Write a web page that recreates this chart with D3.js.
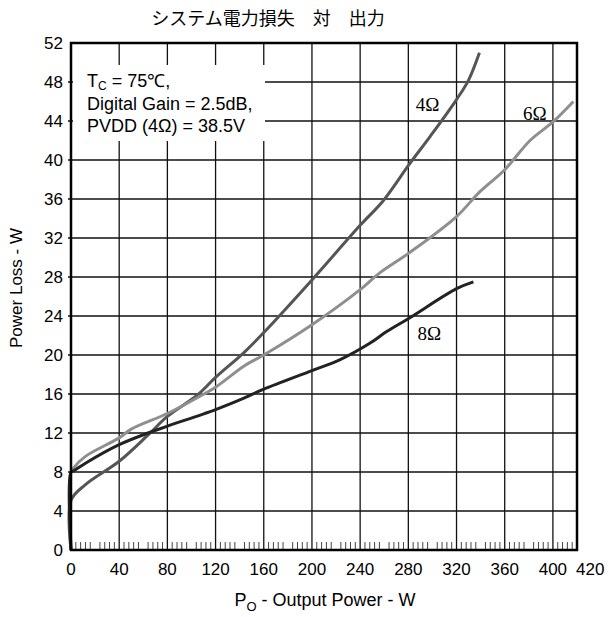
<!DOCTYPE html>
<html>
<head>
<meta charset="utf-8">
<script src="https://cdn.jsdelivr.net/npm/d3@7"></script>
<style>
  html, body { margin: 0; padding: 0; background: #fff; }
  svg { display: block; }
</style>
</head>
<body>
<svg id="chart" width="609" height="617"></svg>
<script>
// Power loss (W) versus output power (W) for three load impedances
const power4 = [0, 0, 12, 40, 64, 80, 105, 120, 144, 160, 200, 240, 259, 281, 298, 320, 330, 339];
const loss4  = [0, 5.1, 6.7, 9.1, 11.8, 13.7, 15.9, 17.7, 20.3, 22.3, 27.7, 33.3, 35.8, 39.6, 42.4, 46.2, 48.2, 51.0];

const power6 = [0, 0, 2, 12, 40, 50, 80, 106, 120, 144, 160, 200, 240, 256, 281, 320, 339, 360, 381, 400, 417];
const loss6  = [0, 8, 8.4, 9.6, 11.5, 12.4, 14.0, 15.7, 16.7, 18.9, 20.0, 23.1, 26.7, 28.4, 30.5, 34.2, 36.7, 39.0, 42.0, 43.9, 46.0];

const power8 = [0, 0, 2, 12, 40, 64, 80, 120, 144, 160, 200, 223, 248, 262, 281, 320, 334];
const loss8  = [0, 8, 8.1, 8.9, 10.8, 12.0, 12.7, 14.4, 15.6, 16.5, 18.4, 19.5, 21.2, 22.4, 23.8, 26.8, 27.5];

const xTicks = [0, 40, 80, 120, 160, 200, 240, 280, 320, 360, 400, 420];
const yTicks = [0, 4, 8, 12, 16, 20, 24, 28, 32, 36, 40, 44, 48, 52];

const seriesNames = ["4Ω", "6Ω", "8Ω"];
const seriesColors = ["#555555", "#8f8f8f", "#222222"];

const SANS = "'Liberation Sans', Arial, Helvetica, sans-serif";
const SERIF = "'Liberation Serif', 'Times New Roman', serif";

const svg = d3.select("#chart");

const x = d3.scaleLinear().domain([0, 420]).range([71, 577]);
const y = d3.scaleLinear().domain([0, 52]).range([550, 43]);

// Title
svg.append("text")
  .attr("x", 268).attr("y", 25)
  .attr("text-anchor", "middle")
  .style("font-family", "'Noto Sans CJK JP', sans-serif")
  .style("font-size", "18px")
  .text("システム電力損失　対　出力");

// Grid
const grid = svg.append("g").attr("stroke", "#111").attr("stroke-width", 1.3);
grid.selectAll("line.v")
  .data(xTicks.filter(d => d > 0 && d < 420))
  .join("line")
  .attr("x1", d => x(d)).attr("x2", d => x(d))
  .attr("y1", y(52)).attr("y2", y(0));
grid.selectAll("line.h")
  .data(yTicks.filter(d => d > 0 && d < 52))
  .join("line")
  .attr("x1", x(0) - 3).attr("x2", x(420))
  .attr("y1", d => y(d)).attr("y2", d => y(d));

// Minor ticks along the bottom edge, every 4 W except mid-interval
const minor = d3.range(4, 420, 4).filter(d => d % 20 !== 0);
svg.append("g")
  .attr("stroke", "#444").attr("stroke-width", 1)
  .selectAll("line")
  .data(minor)
  .join("line")
  .attr("x1", d => x(d)).attr("x2", d => x(d))
  .attr("y1", y(0)).attr("y2", y(0) - 8);

// Note box
svg.append("rect")
  .attr("x", x(0) + 2).attr("y", 65)
  .attr("width", 192).attr("height", 76)
  .attr("fill", "#fff");

const note = svg.append("g");
const noteText = (yy) => note.append("text")
  .attr("x", 87).attr("y", yy)
  .style("font-family", SANS).style("font-size", "18px");
const l1 = noteText(87);
l1.append("tspan").text("T");
l1.append("tspan").attr("dy", 3).style("font-size", "12px").text("C");
l1.append("tspan").attr("dy", -3).text(" = 75℃,");
noteText(110).text("Digital Gain = 2.5dB,");
noteText(132).text("PVDD (4Ω) = 38.5V");

// Curves
const line = d3.line()
  .curve(d3.curveCatmullRom.alpha(0.5))
  .x(d => x(d[0])).y(d => y(d[1]));
const series = [
  d3.zip(power4, loss4),
  d3.zip(power6, loss6),
  d3.zip(power8, loss8)
];
// Draw order: 4Ω, 6Ω, then 8Ω on top
series.forEach((pts, i) => {
  svg.append("path")
    .datum(pts)
    .attr("fill", "none")
    .attr("stroke", seriesColors[i])
    .attr("stroke-width", 3)
    .attr("stroke-linejoin", "round")
    .attr("d", line);
});

// Series labels
const labelPos = [[296, 45.0], [385, 44.1], [297.5, 21.5]];
svg.append("g")
  .selectAll("text")
  .data(seriesNames)
  .join("text")
  .attr("x", (d, i) => x(labelPos[i][0]))
  .attr("y", (d, i) => y(labelPos[i][1]))
  .attr("text-anchor", "middle")
  .style("font-family", SERIF)
  .style("font-size", "19px")
  .text(d => d);

// Frame
svg.append("rect")
  .attr("x", x(0)).attr("y", y(52))
  .attr("width", x(420) - x(0)).attr("height", y(0) - y(52))
  .attr("fill", "none").attr("stroke", "#000").attr("stroke-width", 2.5);

// Tick labels
svg.append("g")
  .selectAll("text")
  .data(yTicks)
  .join("text")
  .attr("x", 63)
  .attr("y", d => y(d) + 6)
  .attr("text-anchor", "end")
  .style("font-family", SANS).style("font-size", "17px")
  .text(d => d);

svg.append("g")
  .selectAll("text")
  .data(xTicks)
  .join("text")
  .attr("x", d => d === 420 ? x(d) - 1 : x(d))
  .attr("y", 575)
  .attr("text-anchor", d => d === 420 ? "start" : "middle")
  .style("font-family", SANS).style("font-size", "17px")
  .text(d => d);

// Axis titles
const xt = svg.append("text")
  .attr("x", 325).attr("y", 606)
  .attr("text-anchor", "middle")
  .style("font-family", SANS).style("font-size", "18px");
xt.append("tspan").text("P");
xt.append("tspan").attr("dy", 5).style("font-size", "13px").text("O");
xt.append("tspan").attr("dy", -5).text(" - Output Power - W");

svg.append("text")
  .attr("transform", "translate(22," + 288 + ") rotate(-90)")
  .attr("text-anchor", "middle")
  .style("font-family", SANS).style("font-size", "17px")
  .text("Power Loss - W");
</script>
</body>
</html>
